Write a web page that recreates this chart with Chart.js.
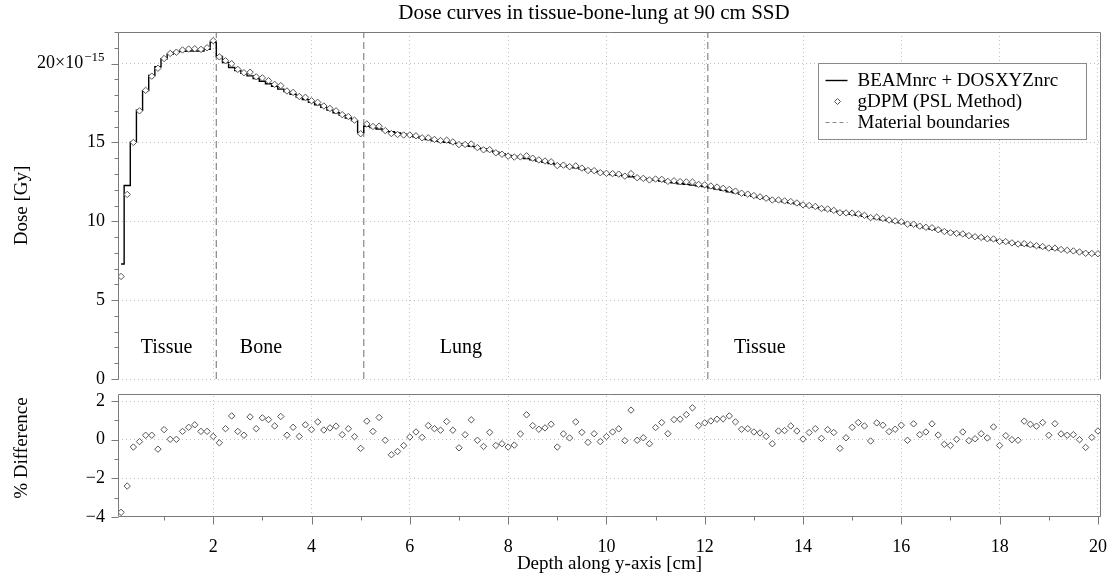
<!DOCTYPE html>
<html>
<head>
<meta charset="utf-8">
<script src="https://cdn.jsdelivr.net/npm/chart.js@4.4.1/dist/chart.umd.min.js"></script>
<style>
  html, body { margin: 0; padding: 0; background: #fff; }
</style>
</head>
<body>
<canvas id="doseChart" width="1107" height="575"></canvas>
<script>
// depth of each voxel centre [cm]
const depth = [
  0.125, 0.25, 0.375, 0.5, 0.625, 0.75, 0.875, 1,
  1.125, 1.25, 1.375, 1.5, 1.625, 1.75, 1.875, 2,
  2.125, 2.25, 2.375, 2.5, 2.625, 2.75, 2.875, 3,
  3.125, 3.25, 3.375, 3.5, 3.625, 3.75, 3.875, 4,
  4.125, 4.25, 4.375, 4.5, 4.625, 4.75, 4.875, 5,
  5.125, 5.25, 5.375, 5.5, 5.625, 5.75, 5.875, 6,
  6.125, 6.25, 6.375, 6.5, 6.625, 6.75, 6.875, 7,
  7.125, 7.25, 7.375, 7.5, 7.625, 7.75, 7.875, 8,
  8.125, 8.25, 8.375, 8.5, 8.625, 8.75, 8.875, 9,
  9.125, 9.25, 9.375, 9.5, 9.625, 9.75, 9.875, 10,
  10.125, 10.25, 10.375, 10.5, 10.625, 10.75, 10.875, 11,
  11.125, 11.25, 11.375, 11.5, 11.625, 11.75, 11.875, 12,
  12.125, 12.25, 12.375, 12.5, 12.625, 12.75, 12.875, 13,
  13.125, 13.25, 13.375, 13.5, 13.625, 13.75, 13.875, 14,
  14.125, 14.25, 14.375, 14.5, 14.625, 14.75, 14.875, 15,
  15.125, 15.25, 15.375, 15.5, 15.625, 15.75, 15.875, 16,
  16.125, 16.25, 16.375, 16.5, 16.625, 16.75, 16.875, 17,
  17.125, 17.25, 17.375, 17.5, 17.625, 17.75, 17.875, 18,
  18.125, 18.25, 18.375, 18.5, 18.625, 18.75, 18.875, 19,
  19.125, 19.25, 19.375, 19.5, 19.625, 19.75, 19.875, 20
];

// BEAMnrc + DOSXYZnrc dose [1e-15 Gy]
const beamDose = [
  7.29, 12.27, 15.02, 17.04, 18.28, 19.25, 19.80, 20.30,
  20.60, 20.72, 20.78, 20.80, 20.80, 20.80, 20.90, 21.35,
  20.45, 20.07, 19.75, 19.55, 19.38, 19.22, 19.05, 18.88,
  18.72, 18.55, 18.38, 18.22, 18.05, 17.88, 17.72, 17.55,
  17.38, 17.22, 17.05, 16.88, 16.72, 16.55, 16.38, 15.62,
  16.02, 15.94, 15.85, 15.75, 15.68, 15.60, 15.52, 15.45,
  15.36, 15.27, 15.18, 15.10, 15.05, 15.00, 14.96, 14.92,
  14.83, 14.75, 14.67, 14.58, 14.48, 14.38, 14.28, 14.18,
  14.11, 14.04, 13.97, 13.90, 13.82, 13.74, 13.66, 13.58,
  13.52, 13.45, 13.39, 13.32, 13.24, 13.17, 13.09, 13.02,
  12.97, 12.92, 12.87, 12.82, 12.76, 12.71, 12.65, 12.60,
  12.55, 12.49, 12.44, 12.38, 12.34, 12.29, 12.25, 12.20,
  12.12, 12.04, 11.96, 11.87, 11.80, 11.72, 11.65, 11.58,
  11.51, 11.44, 11.37, 11.30, 11.24, 11.17, 11.11, 11.04,
  10.96, 10.88, 10.80, 10.72, 10.65, 10.59, 10.52, 10.45,
  10.38, 10.31, 10.24, 10.17, 10.10, 10.04, 9.97, 9.90,
  9.82, 9.74, 9.66, 9.58, 9.51, 9.44, 9.37, 9.30,
  9.23, 9.16, 9.09, 9.02, 8.95, 8.88, 8.82, 8.75,
  8.69, 8.63, 8.56, 8.50, 8.44, 8.39, 8.33, 8.28,
  8.23, 8.19, 8.14, 8.10, 8.05, 8.00, 7.95, 7.90
];

// gDPM (PSL method) dose [1e-15 Gy]
const gdpmDose = [
  6.50, 11.70, 15.00, 17.00, 18.30, 19.20, 19.70, 20.32,
  20.64, 20.72, 20.86, 20.92, 20.94, 20.90, 21.00, 21.45,
  20.42, 20.18, 19.99, 19.63, 19.42, 19.45, 19.16, 19.09,
  18.91, 18.68, 18.60, 18.26, 18.17, 17.91, 17.86, 17.64,
  17.54, 17.31, 17.15, 17.00, 16.76, 16.64, 16.41, 15.55,
  16.17, 16.01, 16.03, 15.75, 15.56, 15.50, 15.47, 15.47,
  15.42, 15.29, 15.29, 15.19, 15.12, 15.14, 15.03, 14.86,
  14.87, 14.90, 14.67, 14.53, 14.54, 14.34, 14.25, 14.13,
  14.07, 14.08, 14.15, 14.00, 13.89, 13.82, 13.77, 13.53,
  13.56, 13.46, 13.51, 13.37, 13.22, 13.21, 13.08, 13.04,
  13.02, 12.99, 12.86, 13.02, 12.76, 12.72, 12.62, 12.68,
  12.66, 12.53, 12.57, 12.51, 12.50, 12.49, 12.34, 12.31,
  12.24, 12.17, 12.09, 12.02, 11.91, 11.78, 11.72, 11.63,
  11.55, 11.46, 11.35, 11.35, 11.29, 11.25, 11.16, 11.04,
  11.00, 10.94, 10.81, 10.78, 10.69, 10.54, 10.53, 10.52,
  10.47, 10.38, 10.23, 10.26, 10.18, 10.08, 10.02, 9.97,
  9.82, 9.82, 9.69, 9.62, 9.59, 9.46, 9.35, 9.27,
  9.23, 9.20, 9.09, 9.02, 8.98, 8.89, 8.88, 8.72,
  8.71, 8.63, 8.56, 8.58, 8.51, 8.45, 8.40, 8.30,
  8.30, 8.21, 8.16, 8.12, 8.05, 7.97, 7.96, 7.94
];

// % difference gDPM vs BEAMnrc
const diffPct = [
  -3.76, -2.40, -0.38, -0.10, 0.23, 0.23, -0.49, 0.52,
  0.02, 0.02, 0.43, 0.64, 0.77, 0.43, 0.43, 0.17,
  -0.16, 0.57, 1.23, 0.43, 0.23, 1.18, 0.57, 1.13,
  1.04, 0.71, 1.20, 0.23, 0.64, 0.17, 0.77, 0.52,
  0.92, 0.50, 0.61, 0.70, 0.26, 0.57, 0.16, -0.45,
  0.96, 0.43, 1.15, -0.03, -0.78, -0.61, -0.30, 0.14,
  0.40, 0.12, 0.73, 0.57, 0.49, 0.94, 0.49, -0.42,
  0.26, 1.03, -0.03, -0.35, 0.38, -0.30, -0.21, -0.38,
  -0.28, 0.30, 1.29, 0.73, 0.54, 0.61, 0.80, -0.38,
  0.30, 0.09, 0.92, 0.38, -0.14, 0.31, -0.10, 0.16,
  0.40, 0.56, -0.05, 1.53, -0.03, 0.10, -0.21, 0.63,
  0.89, 0.31, 1.04, 1.06, 1.30, 1.65, 0.73, 0.87,
  0.97, 1.06, 1.08, 1.23, 0.92, 0.54, 0.57, 0.40,
  0.35, 0.17, -0.21, 0.45, 0.47, 0.71, 0.45, 0.03,
  0.37, 0.57, 0.07, 0.52, 0.37, -0.45, 0.10, 0.64,
  0.89, 0.71, -0.07, 0.87, 0.75, 0.42, 0.54, 0.75,
  -0.03, 0.82, 0.26, 0.40, 0.82, 0.24, -0.24, -0.30,
  0.02, 0.40, -0.05, 0.05, 0.31, 0.09, 0.66, -0.30,
  0.21, 0.00, -0.03, 0.96, 0.80, 0.70, 0.89, 0.23,
  0.83, 0.30, 0.23, 0.26, 0.00, -0.40, 0.12, 0.45
];

const boundaries = [2.0625, 5.0625, 12.0625];
const regionNames = ['Tissue', 'Bone', 'Lung', 'Tissue'];
const regionCentres = [1.05, 2.97, 7.04, 13.12];

const doseTicks = [0, 1, 2, 3, 4, 5, 6, 7, 8, 9, 10, 11, 12, 13, 14, 15, 16, 17, 18, 19, 20, 21, 22];
const diffTicks = [-4, -3, -2, -1, 0, 1, 2];
const depthTicks = [1, 2, 3, 4, 5, 6, 7, 8, 9, 10, 11, 12, 13, 14, 15, 16, 17, 18, 19, 20];

const chartTitle = 'Dose curves in tissue-bone-lung at 90 cm SSD';
const doseMax = 22;
const diffMin = -4, diffMax = 3.14, diffFrameTop = 2.38;
const serif = "'Liberation Serif', 'Times New Roman', serif";
const axisGrey = '#7a7a7a';
const gridGrey = '#c2c2c2';

const pts = ys => ys.map((y, i) => ({ x: depth[i], y: y }));

const boundaryLine = [];
boundaries.forEach(b => {
  boundaryLine.push({ x: b, y: 0 }, { x: b, y: doseMax }, { x: b, y: null });
});

function line(ctx, x1, y1, x2, y2) {
  ctx.beginPath();
  ctx.moveTo(x1, y1);
  ctx.lineTo(x2, y2);
  ctx.stroke();
}

const panels = {
  id: 'panels',
  beforeDatasetsDraw(chart) {
    // white strip between the two panels
    const { ctx, scales: { x, yDose, yDiff } } = chart;
    const top = Math.round(yDose.bottom) + 1;
    const bottom = Math.round(yDiff.getPixelForValue(diffFrameTop));
    ctx.save();
    ctx.fillStyle = '#fff';
    ctx.fillRect(x.left - 2, top, x.right - x.left + 4, bottom - top);
    ctx.restore();
  },
  afterDraw(chart) {
    const { ctx, scales: { x, yDose, yDiff } } = chart;
    const L = Math.round(x.left) + 0.5;
    const R = Math.round(x.right) - 0.5;
    const dTop = Math.round(yDose.top) + 0.5;
    const dBot = Math.round(yDose.bottom) + 0.5;
    const fTop = Math.round(yDiff.getPixelForValue(diffFrameTop)) + 0.5;
    const fBot = Math.round(yDiff.bottom) - 0.5;

    ctx.save();
    // title
    ctx.fillStyle = '#000';
    ctx.font = '21px ' + serif;
    ctx.textAlign = 'center';
    ctx.textBaseline = 'middle';
    ctx.fillText(chartTitle, 594, 13);

    ctx.strokeStyle = axisGrey;
    ctx.lineWidth = 1;
    // frames
    line(ctx, L, dTop, R, dTop);
    line(ctx, L, dTop, L, dBot);
    line(ctx, R, dTop, R, dBot);
    line(ctx, L, fTop, R, fTop);
    line(ctx, L, fTop, L, fBot);
    line(ctx, R, fTop, R, fBot);
    line(ctx, L, fBot, R, fBot);

    // ticks, outward
    doseTicks.forEach(v => {
      const py = Math.round(yDose.getPixelForValue(v)) + 0.5;
      line(ctx, L - (v % 5 === 0 ? 7 : 4), py, L, py);
    });
    diffTicks.forEach(v => {
      const py = Math.round(yDiff.getPixelForValue(v)) + 0.5;
      line(ctx, L - (v % 2 === 0 ? 7 : 4), py, L, py);
    });
    depthTicks.forEach(v => {
      const px = Math.round(x.getPixelForValue(v)) + 0.5;
      line(ctx, px, fBot, px, fBot + (v % 2 === 0 ? 8 : 4));
    });

    // 20x10^-15 label with a real superscript
    const y20 = yDose.getPixelForValue(20);
    ctx.font = '13px ' + serif;
    ctx.textAlign = 'right';
    ctx.fillText('\u221215', L - 14, y20 - 6);
    const supW = ctx.measureText('\u221215').width;
    ctx.font = '18px ' + serif;
    ctx.fillText('20\u00d710', L - 14 - supW - 1, y20);

    // material names
    ctx.font = '20px ' + serif;
    ctx.textAlign = 'center';
    regionNames.forEach((name, i) => {
      ctx.fillText(name, x.getPixelForValue(regionCentres[i]), yDose.getPixelForValue(2.0));
    });

    // legend
    const ds = chart.data.datasets;
    const bx = R - 283, by = dTop + 30, bw = 268, bh = 76;
    ctx.fillStyle = '#fff';
    ctx.fillRect(bx, by, bw, bh);
    ctx.strokeStyle = '#8a8a8a';
    ctx.strokeRect(Math.round(bx) + 0.5, Math.round(by) + 0.5, bw, bh);
    const rows = [by + 18, by + 39, by + 60];
    ctx.strokeStyle = '#000';
    ctx.lineWidth = 1.4;
    line(ctx, bx + 8, rows[0], bx + 30, rows[0]);
    ctx.lineWidth = 1;
    ctx.fillStyle = '#fff';
    ctx.strokeStyle = '#555';
    Chart.helpers.drawPoint(ctx, { pointStyle: 'rectRot', radius: 3, borderWidth: 1 }, bx + 20, rows[1]);
    ctx.strokeStyle = '#888';
    ctx.setLineDash([4, 3]);
    line(ctx, bx + 8, rows[2], bx + 30, rows[2]);
    ctx.setLineDash([]);
    ctx.fillStyle = '#000';
    ctx.font = '19px ' + serif;
    ctx.textAlign = 'left';
    [0, 1, 2].forEach(i => ctx.fillText(ds[i].label, bx + 40, rows[i] + 1));
    ctx.restore();
  }
};

const tickFont = { family: serif, size: 18 };
const titleFont = { family: serif, size: 19 };

new Chart(document.getElementById('doseChart'), {
  type: 'line',
  data: {
    datasets: [
      {
        label: 'BEAMnrc + DOSXYZnrc',
        data: pts(beamDose),
        yAxisID: 'yDose',
        stepped: 'middle',
        borderColor: '#000',
        borderWidth: 1.4,
        pointRadius: 0,
        order: 1
      },
      {
        label: 'gDPM (PSL Method)',
        data: pts(gdpmDose),
        yAxisID: 'yDose',
        showLine: false,
        pointStyle: 'rectRot',
        pointRadius: 3.2,
        pointBorderWidth: 1,
        pointBorderColor: '#555',
        pointBackgroundColor: '#fff',
        order: 0
      },
      {
        label: 'Material boundaries',
        data: boundaryLine,
        yAxisID: 'yDose',
        borderColor: '#888',
        borderWidth: 1.2,
        borderDash: [7, 4],
        pointRadius: 0,
        spanGaps: false,
        order: 2
      },
      {
        label: '% Difference',
        data: pts(diffPct),
        yAxisID: 'yDiff',
        showLine: false,
        pointStyle: 'rectRot',
        pointRadius: 3.2,
        pointBorderWidth: 1,
        pointBorderColor: '#555',
        pointBackgroundColor: '#fff',
        order: 0
      }
    ]
  },
  options: {
    responsive: false,
    animation: false,
    layout: { padding: { left: 0, right: 6, top: 32, bottom: 0 } },
    plugins: {
      legend: { display: false },
      tooltip: { enabled: false },
      title: { display: false }
    },
    scales: {
      x: {
        type: 'linear',
        min: 0.0625,
        max: 20.0625,
        afterBuildTicks: s => { s.ticks = depthTicks.map(v => ({ value: v })); },
        afterFit: s => { s.height = 58; s.paddingLeft = 0; s.paddingRight = 0; },
        ticks: {
          autoSkip: false,
          maxRotation: 0,
          padding: 19,
          color: '#000',
          font: tickFont,
          callback: v => (v % 2 === 0 ? String(v) : '')
        },
        grid: {
          drawTicks: false,
          color: c => (c.tick && c.tick.value % 2 === 0 ? gridGrey : 'transparent')
        },
        border: { display: false, dash: [1, 3] },
        title: {
          display: true,
          text: 'Depth along y-axis [cm]',
          color: '#000',
          font: titleFont,
          padding: { top: 0, bottom: 0 }
        }
      },
      yDiff: {
        type: 'linear',
        position: 'left',
        stack: 'panels',
        stackWeight: 138,
        min: diffMin,
        max: diffMax,
        afterBuildTicks: s => { s.ticks = diffTicks.map(v => ({ value: v })); },
        afterFit: s => { s.width = 118; s.paddingTop = 0; s.paddingBottom = 0; },
        ticks: {
          autoSkip: false,
          padding: 13,
          color: '#000',
          font: tickFont,
          callback: v => (v % 2 === 0 ? String(v).replace('-', '\u2212') : '')
        },
        grid: {
          drawTicks: false,
          color: c => (c.tick && c.tick.value % 2 === 0 && c.tick.value > diffMin ? gridGrey : 'transparent')
        },
        border: { display: false, dash: [1, 3] },
        title: {
          display: true,
          text: '% Difference',
          color: '#000',
          font: titleFont,
          padding: { top: 11, bottom: 0 }
        }
      },
      yDose: {
        type: 'linear',
        position: 'left',
        stack: 'panels',
        stackWeight: 347,
        min: 0,
        max: doseMax,
        afterBuildTicks: s => { s.ticks = doseTicks.map(v => ({ value: v })); },
        afterFit: s => { s.width = 118; s.paddingTop = 0; s.paddingBottom = 0; },
        ticks: {
          autoSkip: false,
          padding: 13,
          color: '#000',
          font: tickFont,
          callback: v => (v % 5 === 0 && v !== 20 ? String(v) : '')
        },
        grid: {
          drawTicks: false,
          color: c => (c.tick && c.tick.value % 5 === 0 ? gridGrey : 'transparent')
        },
        border: { display: false, dash: [1, 3] },
        title: {
          display: true,
          text: 'Dose [Gy]',
          color: '#000',
          font: titleFont,
          padding: { top: 11, bottom: 0 }
        }
      }
    }
  },
  plugins: [panels]
});
</script>
</body>
</html>
